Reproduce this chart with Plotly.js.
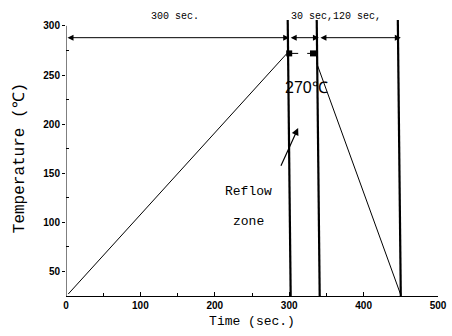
<!DOCTYPE html>
<html><head><meta charset="utf-8">
<script src="https://cdn.plot.ly/plotly-3.0.1.min.js"></script>
<style>body{margin:0;background:#fff}#c{width:452px;height:336px}</style>
</head><body><div id="c"></div>
<script>
// profile (time in sec, temperature in C)
const rampTime = [3, 297];
const rampTemp = [27, 272];
const holdTime = [300, 332];
const holdTemp = [272, 272];
const coolTime = [337, 450];
const coolTemp = [262, 26];
// boundary lines (top and bottom x)
const boundTop = [298, 337, 446];
const boundBottom = [302, 341, 450];
const boundYTop = 306, boundYBottom = 25;
// interval arrows
const arrowY = 288;
const intervals = [[0, 300], [300, 340], [340, 450]];
const xTicks = [0, 100, 200, 300, 400, 500];
const yTicks = [50, 100, 150, 200, 250, 300];

const traces = [
  {x: rampTime, y: rampTemp, mode: 'lines', line: {color: '#000', width: 1}},
  {x: holdTime, y: holdTemp, mode: 'lines+markers', line: {color: '#000', width: 1, dash: 'dash'},
   marker: {symbol: 'square', size: 6, color: '#000'}},
  {x: coolTime, y: coolTemp, mode: 'lines', line: {color: '#000', width: 1}}
];
boundTop.forEach((t, i) => traces.push({x: [t, boundBottom[i]], y: [boundYTop, boundYBottom],
  mode: 'lines', line: {color: '#000', width: 2.2}}));

const mono = 'Liberation Mono, monospace';
const annotations = intervals.map(([a, b]) => ({
  x: b, y: arrowY, ax: a, ay: arrowY, xref: 'x', yref: 'y', axref: 'x', ayref: 'y',
  text: '', showarrow: true, arrowhead: 2, arrowside: 'end+start', arrowsize: 1.2, arrowwidth: 1, arrowcolor: '#000'
}));
annotations.push(
  {x: 146, y: 1.04, xref: 'x', yref: 'paper', text: '300 sec.', showarrow: false, font: {family: mono, size: 10, color: '#000'}},
  {x: 363, y: 1.04, xref: 'x', yref: 'paper', text: '30 sec,120 sec,', showarrow: false, font: {family: mono, size: 10, color: '#000'}},
  {x: 323, y: 237, xref: 'x', yref: 'y', text: '270℃', showarrow: false, font: {family: 'Liberation Sans, Arial', size: 16, color: '#000'}},
  {x: 245, y: 131, xref: 'x', yref: 'y', text: 'Reflow', showarrow: false, font: {family: mono, size: 13, color: '#000'}},
  {x: 245, y: 101, xref: 'x', yref: 'y', text: 'zone', showarrow: false, font: {family: mono, size: 13, color: '#000'}},
  {x: 312, y: 196, ax: 288, ay: 156, xref: 'x', yref: 'y', axref: 'x', ayref: 'y', text: '', showarrow: true,
   arrowhead: 2, arrowsize: 1.2, arrowwidth: 1.2, arrowcolor: '#000'}
);

const tickFont = {family: 'Liberation Sans, Arial', size: 10, color: '#000', weight: 700};
const layout = {
  width: 452, height: 336, showlegend: false,
  paper_bgcolor: '#fff', plot_bgcolor: '#fff',
  margin: {l: 66, r: 14, t: 20, b: 40},
  xaxis: {range: [0, 500], tickvals: xTicks, ticks: 'inside', ticklen: 4, tickcolor: '#000',
    showline: true, linecolor: '#000', linewidth: 1, showgrid: false, zeroline: false,
    minor: {dtick: 50, ticks: 'inside', ticklen: 3, tickcolor: '#000'},
    tickfont: tickFont, title: {text: 'Time (sec.)', font: {family: mono, size: 13, color: '#000'}, standoff: 5}},
  yaxis: {range: [25, 306], tickvals: yTicks, ticks: 'outside', ticklen: 3, tickcolor: '#000',
    showline: false, showgrid: false, zeroline: false,
    minor: {dtick: 50, tick0: 25, ticks: 'inside', ticklen: 3, tickcolor: '#000'},
    tickfont: tickFont, title: {text: 'Temperature (℃)', font: {family: mono, size: 16, color: '#000'}, standoff: 14}},
  shapes: [{type: 'line', xref: 'x', yref: 'y', x0: 0, x1: 0, y0: 25, y1: 300, line: {color: '#000', width: 1}}],
  annotations: annotations
};
Plotly.newPlot('c', traces, layout, {staticPlot: true});
</script></body></html>
